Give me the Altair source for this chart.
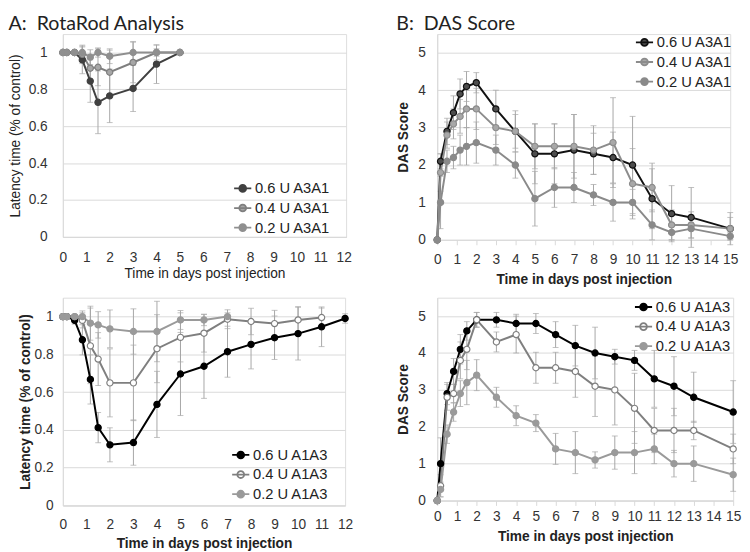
import altair as alt
import pandas as pd

FONT = "Liberation Sans"
TFONT = "Lato"
SYM = "M-2.5,0H2.5M-1,0A1,1,0,1,1,1,0A1,1,0,1,1,-1,0Z"
XTITLE = "Time in days post injection"

# ---------------- Panel A (top): RotaRod, A3A1 ----------------
a1_names = ["0.6 U A3A1", "0.4 U A3A1", "0.2 U A3A1"]
a1_x = [0, 0.17, 0.5, 0.83, 1.17, 1.5, 2, 3, 4, 5]
a1_06 = [1, 1, 1, 0.96, 0.845, 0.73, 0.765, 0.805, 0.937, 1.0]
a1_06_err = [0, 0, 0, 0.075, 0.115, 0.17, 0.145, 0.125, 0.105, 0]
a1_04 = [1, 1, 1, 0.99, 0.915, 0.92, 0.893, 0.946, 1.0, 1.0]
a1_04_err = [0, 0, 0, 0.05, 0.07, 0.1, 0.12, 0.11, 0.04, 0]
a1_02 = [1, 1, 1, 1.0, 0.975, 1.0, 0.98, 1.0, 1.0, 1.0]
a1_02_err = [0, 0, 0, 0.03, 0.04, 0.025, 0.04, 0.06, 0.02, 0]

# ---------------- Panel B (top): DAS, A3A1 ----------------
b1_names = ["0.6 U A3A1", "0.4 U A3A1", "0.2 U A3A1"]
b1_x = [0, 0.17, 0.5, 0.83, 1.17, 1.5, 2, 3, 4, 5, 6, 7, 8, 9, 10, 11, 12, 13, 15]
b1_06 = [0, 2.1, 2.9, 3.4, 3.9, 4.1, 4.2, 3.5, 2.9, 2.3, 2.3, 2.4, 2.3, 2.2, 2.0, 1.1, 0.7, 0.6, 0.3]
b1_06_err = [0, 0.2, 0.35, 0.45, 0.4, 0.4, 0.27, 0.5, 0.55, 0.8, 0.8, 0.95, 0.55, 0.68, 1.3, 0.8, 0.75, 0.8, 0.43]
b1_04 = [0, 1.8, 2.8, 3.1, 3.3, 3.5, 3.5, 3.0, 2.9, 2.5, 2.5, 2.5, 2.4, 2.6, 1.5, 1.4, 0.4, 0.4, 0.3]
b1_04_err = [0, 0.5, 0.35, 0.4, 0.45, 0.5, 0.55, 0.45, 0.45, 0.6, 0.6, 0.85, 0.65, 1.2, 0.94, 0.65, 0.4, 0.35, 0.3]
b1_02 = [0, 1.0, 2.1, 2.2, 2.4, 2.5, 2.6, 2.4, 2.0, 1.1, 1.4, 1.4, 1.2, 1.0, 1.0, 0.4, 0.2, 0.3, 0.1]
b1_02_err = [0, 0.7, 0.3, 0.3, 0.4, 0.5, 0.55, 0.4, 0.35, 0.73, 0.53, 0.4, 0.28, 0.5, 0.35, 0.4, 0.2, 0.25, 0.1]

# ---------------- Panel A (bottom): RotaRod, A1A3 ----------------
a2_names = ["0.6 U A1A3", "0.4 U A1A3", "0.2 U A1A3"]
a2_x = [0, 0.17, 0.5, 0.83, 1.17, 1.5, 2, 3, 4, 5, 6, 7, 8, 9, 10, 11, 12]
a2_06 = [1, 1, 0.98, 0.877, 0.667, 0.412, 0.321, 0.333, 0.535, 0.696, 0.737, 0.814, 0.853, 0.888, 0.91, 0.946, 0.99]
a2_06_err = [0, 0, 0.02, 0.08, 0.13, 0.08, 0.09, 0.12, 0.175, 0.22, 0.17, 0.135, 0.13, 0.115, 0.14, 0.105, 0.025]
a2_04 = [1, 1, 1, 0.98, 0.845, 0.775, 0.649, 0.649, 0.83, 0.89, 0.912, 0.986, 0.974, 0.963, 0.982, 0.995, None]
a2_04_err = [0, 0, 0.01, 0.04, 0.2, 0.14, 0.18, 0.2, 0.18, 0.13, 0.1, 0.05, 0.07, 0.07, 0.07, 0.05, None]
a2_02 = [1, 1, 1, 1.0, 0.965, 0.956, 0.935, 0.921, 0.921, 0.982, 0.982, 1.0, None, None, None, None, None]
a2_02_err = [0, 0, 0.01, 0.03, 0.09, 0.07, 0.1, 0.12, 0.16, 0.05, 0.03, 0.02, None, None, None, None, None]

# ---------------- Panel B (bottom): DAS, A1A3 ----------------
b2_names = ["0.6 U A1A3", "0.4 U A1A3", "0.2 U A1A3"]
b2_x = [0, 0.17, 0.5, 0.83, 1.17, 1.5, 2, 3, 4, 5, 6, 7, 8, 9, 10, 11, 12, 13, 15]
b2_06 = [0, 1.0, 2.9, 3.5, 4.1, 4.6, 4.9, 4.9, 4.8, 4.8, 4.5, 4.2, 4.0, 3.9, 3.8, 3.3, 3.1, 2.8, 2.4]
b2_06_err = [0, 0.7, 0.3, 0.35, 0.4, 0.25, 0.2, 0.2, 0.25, 0.27, 0.35, 0.55, 0.7, 0.2, 0.27, 0.77, 0.8, 0.68, 0.85]
b2_04 = [0, 0.4, 2.8, 2.9, 3.8, 4.1, 4.9, 4.3, 4.5, 3.6, 3.6, 3.5, 3.1, 3.0, 2.5, 1.9, 1.9, 1.9, 1.4]
b2_04_err = [0, 0.3, 0.35, 0.25, 0.5, 0.55, 0.2, 0.27, 0.5, 0.42, 0.42, 0.7, 0.82, 0.95, 0.95, 0.6, 0.6, 0.25, 0.4]
b2_02 = [0, 0.3, 1.8, 2.4, 2.9, 3.2, 3.4, 2.8, 2.3, 2.1, 1.4, 1.3, 1.1, 1.3, 1.3, 1.4, 1.0, 1.0, 0.7]
b2_02_err = [0, 0.2, 0.25, 0.25, 0.35, 0.6, 0.42, 0.27, 0.27, 0.23, 0.42, 0.57, 0.22, 0.45, 0.57, 0.4, 0.36, 0.48, 0.45]


def make_df(x, names, vals, errs):
    rows = []
    for name, v, e in zip(names, vals, errs):
        for xi, vi, ei in zip(x, v, e):
            if vi is None:
                continue
            rows.append(dict(x=xi, series=name, y=vi, lo=vi - ei, hi=vi + ei, err=ei))
    return pd.DataFrame(rows)


def panel(df, names, line_cols, fill_cols, xdom, xmax, ydom, yvals, yfmt,
          width, height, ytitle, bold, lx, ly, title=None, pt_size=40,
          lab_pad_x=8, xtitle_pad=4, lab_pad_y=12, ytitle_pad=6, xticks=True,
          leg_orient="none", leg_offset=0):
    weight = "bold" if bold else "normal"
    xaxis = alt.Axis(values=list(range(0, xmax + 1)), title=XTITLE, grid=False,
                     domainColor="#d9d9d9", ticks=xticks, tickColor="#d9d9d9", tickSize=5,
                     labelOverlap=False, labelFlush=False, labelFont=FONT, labelFontSize=14,
                     labelColor="#333", labelPadding=lab_pad_x, titleFont=FONT, titleFontSize=14,
                     titleFontWeight=weight, titleColor="#222", titlePadding=xtitle_pad)
    yaxis = alt.Axis(values=yvals, format=yfmt, title=ytitle, grid=True,
                     gridColor="#d9d9d9", domainColor="#d9d9d9", ticks=False,
                     labelFont=FONT, labelFontSize=14, labelColor="#333",
                     labelPadding=lab_pad_y, titleFont=FONT, titleFontSize=14,
                     titleFontWeight=weight, titleColor="#222", titlePadding=ytitle_pad)
    xs = alt.Scale(domain=[0, xdom], nice=False)
    ys = alt.Scale(domain=[0, ydom], nice=False)

    def X():
        return alt.X("x:Q", scale=xs, axis=xaxis)

    def Y(f):
        return alt.Y(f"{f}:Q", scale=ys, axis=yaxis)

    leg_kw = dict(title=None, symbolType=SYM, symbolSize=49, symbolStrokeWidth=1.8,
                  symbolOpacity=1, labelFont=FONT, labelFontSize=15,
                  labelColor="#222", rowPadding=4, labelOffset=5, padding=0)
    if leg_orient == "none":
        leg_kw.update(orient="none", legendX=lx, legendY=ly)
    else:
        leg_kw.update(orient=leg_orient, offset=leg_offset)
    leg = alt.Legend(**leg_kw)
    stroke = alt.Stroke("series:N", scale=alt.Scale(domain=names, range=line_cols), legend=leg)
    fill = alt.Fill("series:N", scale=alt.Scale(domain=names, range=fill_cols), legend=leg)

    base = alt.Chart(df)
    eb = base.transform_filter("datum.err > 0")
    rules = eb.mark_rule(color="#a6a6a6", strokeWidth=1).encode(x=X(), y=Y("lo"), y2="hi:Q")
    cap_lo = eb.mark_tick(color="#a6a6a6", orient="horizontal", size=6, thickness=1).encode(x=X(), y=Y("lo"))
    cap_hi = eb.mark_tick(color="#a6a6a6", orient="horizontal", size=6, thickness=1).encode(x=X(), y=Y("hi"))
    lines = base.mark_line(strokeWidth=2).encode(x=X(), y=Y("y"), stroke=stroke,
                                                 detail="series:N", order="x:Q")
    pts = base.mark_point(filled=True, size=pt_size, strokeWidth=1.2, opacity=1).encode(
        x=X(), y=Y("y"), stroke=stroke, fill=fill)
    ch = alt.layer(rules, cap_lo, cap_hi, lines, pts).properties(width=width, height=height)
    if title is not None:
        ch = ch.properties(title=alt.TitleParams(title, anchor="start", frame="bounds",
                                                 font=TFONT, fontSize=20, fontWeight="normal",
                                                 color="#222", offset=0))
    return ch


df_a1 = make_df(a1_x, a1_names, [a1_06, a1_04, a1_02], [a1_06_err, a1_04_err, a1_02_err])
df_b1 = make_df(b1_x, b1_names, [b1_06, b1_04, b1_02], [b1_06_err, b1_04_err, b1_02_err])
df_a2 = make_df(a2_x, a2_names, [a2_06, a2_04, a2_02], [a2_06_err, a2_04_err, a2_02_err])
df_b2 = make_df(b2_x, b2_names, [b2_06, b2_04, b2_02], [b2_06_err, b2_04_err, b2_02_err])

rr_vals = [0, 0.2, 0.4, 0.6, 0.8, 1]
das_vals = [0, 1, 2, 3, 4, 5]

pa1 = panel(df_a1, a1_names, ["#404040", "#7f7f7f", "#8f8f8f"], ["#404040", "#a6a6a6", "#8f8f8f"],
            12.1, 12, 1.1, rr_vals, ".1~f", 289, 207, "Latency time (% of control)", False,
            176, 150, title="A:\u00a0 RotaRod Analysis", xticks=False,
            lab_pad_x=14, xtitle_pad=2, lab_pad_y=16, ytitle_pad=6)
pb1 = panel(df_b1, b1_names, ["#111111", "#8c8c8c", "#8a8a8a"], ["#4d4d4d", "#a8a8a8", "#8a8a8a"],
            15, 15, 5.5, das_vals, "d", 299, 210, "DAS Score", True,
            204, 1, title="B:\u00a0 DAS Score",
            lab_pad_x=8, xtitle_pad=7, lab_pad_y=12, ytitle_pad=8)
pa2 = panel(df_a2, a2_names, ["#000000", "#7f7f7f", "#9a9a9a"], ["#000000", "#ffffff", "#9a9a9a"],
            12, 12, 1.1, rr_vals, ".1~f", 288, 212, "Latency time (% of control)", True,
            174, 153, xticks=False,
            lab_pad_x=13, xtitle_pad=5, lab_pad_y=10, ytitle_pad=2)
pb2 = panel(df_b2, b2_names, ["#000000", "#7f7f7f", "#9a9a9a"], ["#000000", "#ffffff", "#9a9a9a"],
            15, 15, 5.5, das_vals, "d", 302, 207, "DAS Score", True,
            0, 0, leg_orient="top-right", leg_offset=2,
            lab_pad_x=4, xtitle_pad=7, lab_pad_y=12, ytitle_pad=8)

chart = alt.concat(pa1, pb1, pa2, pb2, columns=2, spacing={"row": 9, "column": 42}).resolve_scale(
    stroke="independent", fill="independent").resolve_legend(
    stroke="independent", fill="independent").properties(
    padding={"left": 0, "top": 0, "right": 0, "bottom": 0}
).configure_view(stroke=None).configure(background="white")

chart.save("out.html", embed_options={"renderer": "svg", "actions": False})
